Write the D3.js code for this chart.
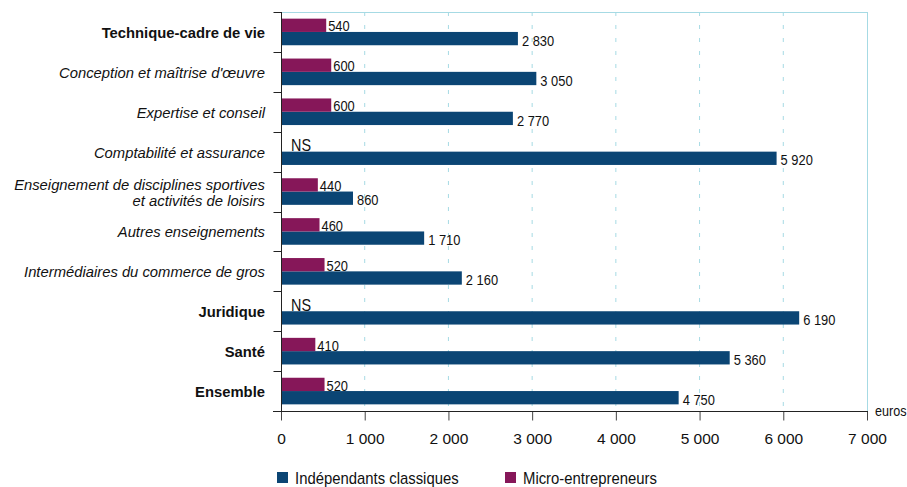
<!DOCTYPE html>
<html><head><meta charset="utf-8">
<script src="https://cdn.jsdelivr.net/npm/d3@7"></script>
<style>
html,body{margin:0;padding:0;background:#fff;}
svg{display:block;font-family:"Liberation Sans",Arial,Helvetica,sans-serif;}
</style></head>
<body>
<svg id="c" width="907" height="487"></svg>
<script>
const categories = [
  "Technique-cadre de vie",
  "Conception et maîtrise d'œuvre",
  "Expertise et conseil",
  "Comptabilité et assurance",
  "Enseignement de disciplines sportives|et activités de loisirs",
  "Autres enseignements",
  "Intermédiaires du commerce de gros",
  "Juridique",
  "Santé",
  "Ensemble"
];
const boldCategories = ["Technique-cadre de vie", "Juridique", "Santé", "Ensemble"];
const classiques = [2830, 3050, 2770, 5920, 860, 1710, 2160, 6190, 5360, 4750];
const micro = [540, 600, 600, null, 440, 460, 520, null, 410, 520];
const xTicks = [0, 1000, 2000, 3000, 4000, 5000, 6000, 7000];
const seriesNames = ["Indépendants classiques", "Micro-entrepreneurs"];
const colors = {classic: "#0b4574", micro: "#861759"};

const loc = d3.formatLocale({decimal: ",", thousands: "\u00a0", grouping: [3], currency: ["", " €"]});
const fmt = loc.format(",d");

const svg = d3.select("#c");
const x = d3.scaleLinear().domain([0, 7000]).range([281, 867]);
const y = d3.scaleBand().domain(categories).range([12, 411]).paddingInner(0).paddingOuter(0);
const sub = d3.scaleBand().domain(["micro", "classic"]).range([0, y.bandwidth()]).paddingInner(0).paddingOuter(0.5);

// grid
const gridColor = "#a6dae4";
svg.append("g").selectAll("line").data(xTicks.filter(t => t > 0 && t < 7000)).join("line")
  .attr("x1", d => x(d)).attr("x2", d => x(d)).attr("y1", 12).attr("y2", 411)
  .attr("stroke", gridColor).attr("stroke-width", 1).attr("stroke-dasharray", "4,9");
// frame top & right
svg.append("line").attr("x1", 281).attr("x2", x(7000) + 0.5).attr("y1", 12.5).attr("y2", 12.5).attr("stroke", gridColor);
svg.append("line").attr("x1", x(7000) + 0.5).attr("x2", x(7000) + 0.5).attr("y1", 12).attr("y2", 411).attr("stroke", gridColor);

const rows = categories.map((c, i) => ({cat: c, classic: classiques[i], micro: micro[i]}));

function narrowText(sel, px, py, txt, size, sx) {
  return sel.append("text").attr("transform", `translate(${px},${py}) scale(${sx},1)`)
    .attr("font-size", size).attr("fill", "#111").text(txt);
}

// bars
const g = svg.append("g");
rows.forEach(r => {
  const y0 = y(r.cat);
  g.append("rect").attr("x", x(0)).attr("y", y0 + sub("classic"))
    .attr("width", x(r.classic) - x(0)).attr("height", sub.bandwidth()).attr("fill", colors.classic);
  narrowText(g, x(r.classic) + 4, y0 + sub("classic") + sub.bandwidth() + 0.5, fmt(r.classic), 15, 0.86);
  if (r.micro != null) {
    g.append("rect").attr("x", x(0)).attr("y", y0 + sub("micro"))
      .attr("width", x(r.micro) - x(0)).attr("height", sub.bandwidth()).attr("fill", colors.micro);
    narrowText(g, x(r.micro) + 2, y0 + sub("micro") + sub.bandwidth() - 0.5, fmt(r.micro), 15, 0.86);
  } else {
    narrowText(g, x(0) + 10, y0 + sub("micro") + sub.bandwidth() - 0.5, "NS", 16, 0.9);
  }
});

// left axis
const yAxis = svg.append("g").attr("transform", "translate(281.5,0)");
yAxis.append("line").attr("x1", 0).attr("x2", 0).attr("y1", 12).attr("y2", 411).attr("stroke", "#222");
const bounds = categories.map(c => y(c)).concat([411]);
yAxis.selectAll("line.t").data(bounds).join("line").attr("class", "t")
  .attr("x1", -8).attr("x2", 0).attr("y1", d => Math.round(d) + 0.5).attr("y2", d => Math.round(d) + 0.5)
  .attr("stroke", "#222");
categories.forEach(c => {
  const lines = c.split("|");
  const bold = boldCategories.includes(c);
  const cy = y(c) + y.bandwidth() / 2;
  const t = svg.append("text").attr("text-anchor", "end").attr("font-size", 14.8)
    .attr("font-weight", bold ? "bold" : "normal").attr("font-style", bold ? "normal" : "italic")
    .attr("fill", "#111");
  lines.forEach((l, i) => {
    t.append("tspan").attr("x", 265).attr("y", cy + 6 + (i - (lines.length - 1) / 2) * 16).text(l);
  });
});

// bottom axis
const xAxis = svg.append("g").attr("transform", "translate(0,411.5)")
  .call(d3.axisBottom(x).tickValues(xTicks).tickSize(9).tickPadding(12).tickFormat(fmt).tickSizeOuter(0));
xAxis.select(".domain").remove();
xAxis.append("line").attr("x1", 273).attr("x2", x(7000) + 1).attr("y1", 0).attr("y2", 0).attr("stroke", "#222");
xAxis.selectAll(".tick line").attr("stroke", "#444");
xAxis.selectAll(".tick text").attr("font-size", 15.5).attr("fill", "#111")
  .attr("font-family", "'Liberation Sans',Arial,sans-serif");
narrowText(svg, 875, 416, "euros", 14, 0.9);

// legend
const legend = svg.append("g");
const legItems = [{name: seriesNames[0], color: colors.classic, x: 277}, {name: seriesNames[1], color: colors.micro, x: 505}];
legItems.forEach(d => {
  legend.append("rect").attr("x", d.x).attr("y", 472).attr("width", 11).attr("height", 11).attr("fill", d.color);
  narrowText(legend, d.x + 18, 484, d.name, 16, 0.93);
});
</script>
</body></html>
